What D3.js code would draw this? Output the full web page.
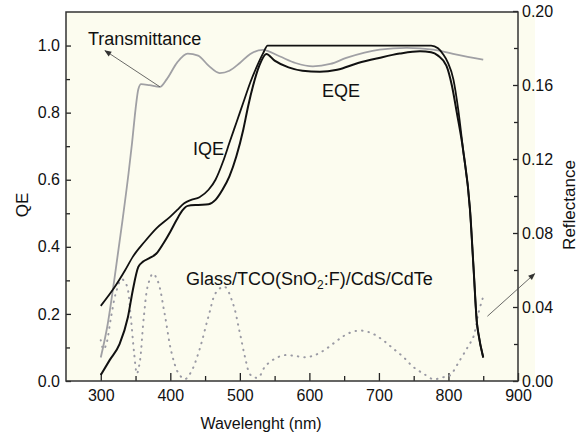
<!DOCTYPE html>
<html><head><meta charset="utf-8">
<script src="https://cdn.jsdelivr.net/npm/d3@7"></script>
<style>
body{margin:0;background:#fff;}
svg{display:block;font-family:"Liberation Sans",Arial,Helvetica,sans-serif;}
</style></head><body>
<svg id="c" width="584" height="436"></svg>
<script>
// ---- data ----
const xTicks = [300,400,500,600,700,800,900];
const xMinor = [350,450,550,650,750,850];
const qeTicks = [0.0,0.2,0.4,0.6,0.8,1.0];
const qeMinor = [0.1,0.3,0.5,0.7,0.9];
const rTicks = [0.00,0.04,0.08,0.12,0.16,0.20];
const rMinor = [0.02,0.06,0.10,0.14,0.18];

const iqeWl  = [300,320,335,346,363,380,400,410,420,430,442,455,465,476,485,495,505,515,525,533,540,600,700,775,785,792,799,807,814,821,831,836,841,843,850];
const iqeVal = [0.224,0.28,0.33,0.37,0.415,0.455,0.49,0.51,0.53,0.54,0.548,0.57,0.60,0.655,0.71,0.77,0.83,0.89,0.94,0.975,1.0,1.0,1.0,1.0,0.992,0.975,0.95,0.90,0.81,0.69,0.51,0.34,0.172,0.142,0.07];

const eqeWl  = [300,313,327,339,346,354,361,370,380,390,400,409,418,425,440,455,465,475,485,495,505,512,519,528,538,550,570,590,615,640,670,700,730,759,775,785,797,805,812,821,831,836,841,843,850];
const eqeVal = [0.018,0.063,0.11,0.19,0.27,0.34,0.356,0.366,0.38,0.41,0.445,0.48,0.51,0.522,0.525,0.527,0.54,0.57,0.61,0.67,0.75,0.82,0.88,0.94,0.975,0.955,0.935,0.925,0.922,0.928,0.948,0.963,0.976,0.983,0.98,0.97,0.94,0.88,0.80,0.69,0.51,0.34,0.172,0.142,0.07];

const trWl  = [300,310,320,330,340,345,350,354,358,370,385,395,410,425,440,455,471,485,500,515,533,557,580,605,630,653,701,740,778,812,850];
const trVal = [0.07,0.17,0.31,0.46,0.62,0.71,0.81,0.87,0.885,0.882,0.877,0.90,0.95,0.976,0.97,0.94,0.918,0.925,0.948,0.975,0.987,0.968,0.948,0.938,0.945,0.963,0.988,0.993,0.988,0.973,0.958];

const rfWl  = [300,304,308,315,322,330,337,343,348,352,356,362,368,375,382,392,402,412,421,430,442,455,466,478,490,500,508,514,520,527,536,550,565,580,595,608,622,637,650,663,677,692,706,720,735,749,764,778,792,802,816,828,836,843,850];
const rfVal = [0.022,0.017,0.02,0.035,0.048,0.055,0.052,0.035,0.015,0.004,0.01,0.035,0.052,0.058,0.054,0.036,0.015,0.004,0.001,0.005,0.017,0.035,0.048,0.051,0.042,0.026,0.012,0.004,0.002,0.002,0.0077,0.012,0.014,0.0135,0.0128,0.014,0.0168,0.021,0.0245,0.0267,0.0272,0.0254,0.022,0.0177,0.013,0.0077,0.004,0.001,0.002,0.003,0.011,0.0185,0.024,0.0366,0.0456];

// ---- layout ----
const L=66, R=518, T=12, B=381;
const svg = d3.select("#c");
const x = d3.scaleLinear().domain([250,900]).range([L,R]);
const y = d3.scaleLinear().domain([0,1.1]).range([B,T]);
const yR = d3.scaleLinear().domain([0,0.2]).range([B,T-1]);

svg.append("rect").attr("x",L).attr("y",T).attr("width",535-L).attr("height",B-T).attr("fill","#fcfcef");

const axisCol="#222";
function styleAxis(g,fs){
  g.select(".domain").remove();
  g.selectAll("line").attr("stroke",axisCol).attr("stroke-width",1.3);
  g.selectAll("text").attr("fill","#111").style("font-size",fs+"px");
}
// bottom axis
svg.append("g").attr("transform",`translate(0,${B})`)
  .call(d3.axisBottom(x).tickValues(xTicks).tickFormat(d3.format("d")).tickSize(-8).tickPadding(9))
  .call(g=>styleAxis(g,16));
svg.append("g").attr("transform",`translate(0,${B})`)
  .call(d3.axisBottom(x).tickValues(xMinor).tickFormat("").tickSize(-5))
  .call(g=>styleAxis(g,16));
// left axis
svg.append("g").attr("transform",`translate(${L},0)`)
  .call(d3.axisLeft(y).tickValues(qeTicks).tickFormat(d3.format(".1f")).tickSize(-5).tickPadding(6))
  .call(g=>styleAxis(g,16));
svg.append("g").attr("transform",`translate(${L},0)`)
  .call(d3.axisLeft(y).tickValues(qeMinor).tickFormat("").tickSize(-4))
  .call(g=>styleAxis(g,16));
// right axis
svg.append("g").attr("transform",`translate(${R},0)`)
  .call(d3.axisRight(yR).tickValues(rTicks).tickFormat(d3.format(".2f")).tickSize(-5).tickPadding(4))
  .call(g=>styleAxis(g,16));
svg.append("g").attr("transform",`translate(${R},0)`)
  .call(d3.axisRight(yR).tickValues(rMinor).tickFormat("").tickSize(-4))
  .call(g=>styleAxis(g,16));

// frame
svg.append("rect").attr("x",L).attr("y",T).attr("width",R-L).attr("height",B-T)
  .attr("fill","none").attr("stroke","#333").attr("stroke-width",1.5);

// ---- series ----
const mk = (wl,vals,ys,curve)=>d3.line().x((d,i)=>x(wl[i])).y((d,i)=>ys(vals[i])).curve(curve)(vals);

svg.append("path").attr("d",mk(rfWl,rfVal,yR,d3.curveCatmullRom.alpha(0.5)))
  .attr("fill","none").attr("stroke","#9a9aa4").attr("stroke-width",2)
  .attr("stroke-linecap","round").attr("stroke-dasharray","0.5,6");
svg.append("path").attr("d",mk(trWl,trVal,y,d3.curveMonotoneX))
  .attr("fill","none").attr("stroke","#a0a0a4").attr("stroke-width",1.8);
svg.append("path").attr("d",mk(eqeWl,eqeVal,y,d3.curveMonotoneX))
  .attr("fill","none").attr("stroke","#111").attr("stroke-width",2);
svg.append("path").attr("d",mk(iqeWl,iqeVal,y,d3.curveMonotoneX))
  .attr("fill","none").attr("stroke","#111").attr("stroke-width",1.8);

// ---- annotations ----
svg.append("defs").append("marker").attr("id","ah").attr("viewBox","0 0 10 10")
  .attr("refX",9).attr("refY",5).attr("markerWidth",9).attr("markerHeight",7)
  .attr("markerUnits","userSpaceOnUse").attr("orient","auto")
  .append("path").attr("d","M0,1 L10,5 L0,9 Z").attr("fill","#333");
svg.append("line").attr("x1",x(385)).attr("y1",y(0.877)).attr("x2",x(306)).attr("y2",y(0.985))
  .attr("stroke","#444").attr("stroke-width",0.8).attr("marker-end","url(#ah)");
svg.append("line").attr("x1",x(856)).attr("y1",yR(0.035)).attr("x2",x(924)).attr("y2",yR(0.058))
  .attr("stroke","#444").attr("stroke-width",0.8).attr("marker-end","url(#ah)");

const ann = (t,px,py)=>svg.append("text").attr("x",px).attr("y",py).style("font-size","18px").attr("fill","#111").text(t);
ann("Transmittance",88,45);
ann("IQE",193,155);
ann("EQE",322,97);
const g2 = svg.append("text").attr("x",186).attr("y",285).style("font-size","18px").attr("fill","#111");
g2.append("tspan").text("Glass/TCO(SnO");
g2.append("tspan").attr("dy",4).style("font-size","12px").text("2");
g2.append("tspan").attr("dy",-4).text(":F)/CdS/CdTe");

// axis titles
svg.append("text").attr("x",261).attr("y",429).attr("text-anchor","middle").style("font-size","16px").attr("fill","#111").text("Wavelenght (nm)");
svg.append("text").attr("transform","translate(28,205) rotate(-90)").attr("text-anchor","middle").style("font-size","17px").attr("fill","#111").text("QE");
svg.append("text").attr("transform","translate(575,205) rotate(-90)").attr("text-anchor","middle").style("font-size","17px").attr("fill","#111").text("Reflectance");
</script></body></html>
